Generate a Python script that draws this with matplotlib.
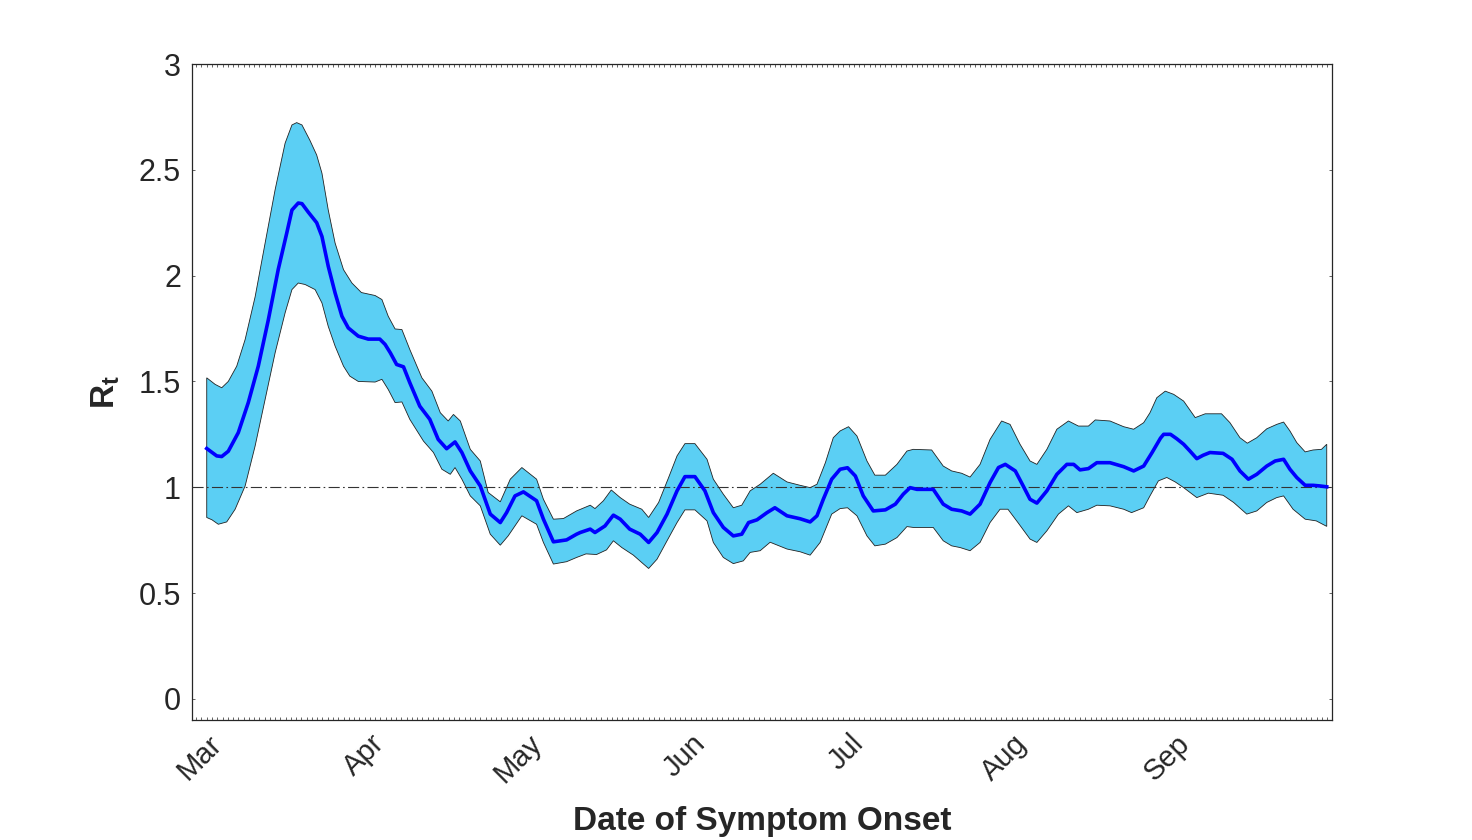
import numpy as np
import matplotlib
matplotlib.use("Agg")
import matplotlib.pyplot as plt
import matplotlib.dates as mdates
import datetime as dt

plt.rcParams['font.family'] = ['Liberation Sans', 'DejaVu Sans']
plt.rcParams['mathtext.fontset'] = 'custom'
plt.rcParams['mathtext.bf'] = 'Liberation Sans:bold'
plt.rcParams['mathtext.rm'] = 'Liberation Sans'

# ---- data (day offsets from series start, value) ----
start_date = "2020-02-28"

mean_days = [0.0, 1.9, 2.85, 4.1, 6.0, 7.9, 9.8, 11.7, 13.6, 15.2, 16.2, 17.4, 18.1, 19.3, 20.9, 21.9,
             23.1, 24.4, 25.7, 26.9, 28.8, 30.7, 32.9, 33.9, 34.9, 36.1, 37.4, 38.6, 40.5, 42.4, 44.0,
             45.6, 47.2, 48.5, 50.1, 52.0, 53.9, 55.8, 57.0, 58.6, 60.2, 62.7, 64.0, 65.9, 68.4, 70.3,
             71.0, 72.9, 73.8, 75.7, 77.3, 78.6, 80.4, 82.4, 84.0, 85.6, 87.5, 89.4, 90.9, 92.8, 94.7,
             96.3, 98.2, 100.1, 101.7, 103.0, 104.6, 106.5, 108.0, 110.3, 112.8, 114.7, 116.0, 117.2,
             118.8, 120.4, 121.8, 123.3, 124.8, 126.7, 129.0, 130.9, 132.4, 133.7, 135.0, 138.1, 140.0,
             141.6, 143.5, 145.1, 147.0, 148.9, 150.5, 151.8, 153.7, 155.2, 156.5, 157.8, 159.7, 161.6,
             163.5, 164.8, 166.0, 167.6, 169.2, 171.7, 174.3, 176.2, 178.1, 179.7, 181.3, 181.9, 183.2,
             184.4, 185.7, 186.9, 188.2, 189.4, 190.7, 193.2, 194.9, 196.4, 198.0, 199.6, 201.5, 203.1,
             204.7, 205.9, 207.2, 208.8, 210.3, 211.6, 212.9]
mean_rt = [1.183, 1.148, 1.145, 1.17, 1.258, 1.40, 1.572, 1.79, 2.03, 2.20, 2.31, 2.343, 2.34, 2.30, 2.25,
           2.185, 2.044, 1.918, 1.808, 1.753, 1.714, 1.70, 1.70, 1.675, 1.635, 1.58, 1.569, 1.494, 1.383,
           1.321, 1.226, 1.182, 1.214, 1.164, 1.077, 1.006, 0.873, 0.833, 0.88, 0.959, 0.978, 0.936,
           0.849, 0.742, 0.751, 0.778, 0.786, 0.802, 0.786, 0.817, 0.868, 0.849, 0.802, 0.778, 0.739,
           0.786, 0.873, 0.983, 1.05, 1.05, 0.983, 0.88, 0.81, 0.77, 0.778, 0.833, 0.846, 0.88, 0.903,
           0.865, 0.851, 0.836, 0.865, 0.943, 1.038, 1.085, 1.092, 1.053, 0.959, 0.888, 0.893, 0.92,
           0.967, 0.998, 0.99, 0.99, 0.92, 0.896, 0.888, 0.873, 0.92, 1.022, 1.093, 1.108, 1.077, 1.006,
           0.943, 0.925, 0.983, 1.061, 1.108, 1.108, 1.082, 1.088, 1.116, 1.116, 1.097, 1.077, 1.10,
           1.164, 1.232, 1.25, 1.25, 1.229, 1.203, 1.171, 1.135, 1.151, 1.164, 1.16, 1.132, 1.077, 1.038,
           1.061, 1.10, 1.124, 1.132, 1.085, 1.046, 1.009, 1.009, 1.006, 1.002]

upper_days = [0.0, 1.6, 2.85, 4.1, 5.7, 7.3, 9.2, 11.1, 13.0, 14.9, 16.2, 17.1, 18.1, 19.6, 20.9, 21.9,
              23.1, 24.4, 26.0, 27.6, 29.4, 32.0, 33.3, 34.5, 35.8, 37.1, 38.6, 40.9, 42.8, 44.4, 45.9,
              46.9, 48.2, 50.1, 52.0, 53.5, 55.8, 57.7, 59.9, 62.7, 64.0, 65.9, 67.8, 70.3, 72.9, 73.8,
              75.4, 76.9, 78.6, 80.4, 82.7, 84.0, 85.9, 87.8, 89.4, 90.9, 92.8, 95.1, 96.3, 98.2, 100.1,
              101.7, 103.3, 105.2, 107.7, 110.3, 112.8, 114.7, 116.0, 117.6, 119.1, 120.4, 122.0, 123.6,
              125.5, 127.0, 129.0, 131.2, 133.1, 134.3, 137.8, 140.0, 141.6, 143.5, 145.1, 147.0, 148.9,
              151.1, 152.7, 154.6, 156.5, 157.8, 159.7, 161.6, 163.8, 165.7, 167.6, 168.9, 171.7, 174.3,
              176.2, 178.1, 179.3, 180.6, 182.2, 183.8, 185.7, 187.9, 189.8, 192.9, 194.5, 196.4, 197.8,
              199.6, 201.5, 203.4, 204.7, 205.9, 207.2, 208.8, 210.3, 211.9, 212.9]
upper_rt = [1.517, 1.486, 1.47, 1.50, 1.572, 1.698, 1.90, 2.154, 2.406, 2.626, 2.712, 2.723, 2.712, 2.64,
            2.57, 2.484, 2.31, 2.154, 2.028, 1.965, 1.92, 1.906, 1.887, 1.808, 1.748, 1.745, 1.651, 1.517,
            1.454, 1.352, 1.313, 1.344, 1.313, 1.179, 1.124, 0.975, 0.931, 1.038, 1.093, 1.038, 0.943,
            0.849, 0.852, 0.888, 0.915, 0.899, 0.936, 0.987, 0.951, 0.92, 0.896, 0.857, 0.928, 1.046,
            1.148, 1.206, 1.206, 1.132, 1.038, 0.967, 0.903, 0.915, 0.983, 1.014, 1.066, 1.025, 1.009,
            0.998, 1.014, 1.116, 1.234, 1.266, 1.286, 1.242, 1.124, 1.057, 1.057, 1.108, 1.171, 1.179,
            1.176, 1.10, 1.077, 1.066, 1.048, 1.108, 1.226, 1.313, 1.297, 1.203, 1.124, 1.108, 1.179,
            1.274, 1.313, 1.289, 1.289, 1.318, 1.313, 1.286, 1.274, 1.305, 1.352, 1.423, 1.454, 1.439,
            1.407, 1.329, 1.347, 1.347, 1.305, 1.234, 1.208, 1.234, 1.276, 1.297, 1.308, 1.266, 1.211,
            1.167, 1.176, 1.179, 1.203]

lower_days = [0.0, 1.0, 2.2, 3.8, 5.4, 7.3, 9.2, 11.1, 13.0, 14.9, 16.2, 17.4, 18.7, 20.6, 21.9, 23.1,
              24.4, 26.0, 27.2, 28.8, 32.0, 33.3, 34.5, 35.8, 37.1, 38.6, 41.2, 43.1, 44.7, 46.3, 47.2,
              48.5, 50.1, 52.0, 53.9, 55.8, 57.3, 59.9, 62.7, 64.0, 65.9, 68.4, 70.3, 72.1, 74.1, 76.0,
              77.3, 78.9, 81.1, 82.7, 84.0, 85.6, 87.5, 89.4, 90.9, 92.8, 95.1, 96.3, 98.2, 100.1, 102.0,
              103.3, 105.2, 107.1, 110.3, 112.8, 114.7, 116.6, 118.8, 120.4, 121.8, 123.6, 125.5, 127.0,
              129.0, 131.2, 133.1, 134.3, 138.1, 140.0, 141.6, 143.2, 145.1, 147.0, 148.9, 150.8, 152.3,
              154.2, 156.5, 157.8, 159.7, 161.9, 163.8, 165.4, 167.6, 169.2, 171.7, 174.3, 175.8, 178.1,
              179.3, 180.9, 182.5, 184.1, 185.7, 188.2, 190.4, 193.2, 195.2, 197.7, 199.6, 201.5, 203.4,
              204.7, 206.5, 208.8, 210.9, 212.9]
lower_rt = [0.857, 0.846, 0.825, 0.836, 0.896, 1.006, 1.195, 1.415, 1.635, 1.824, 1.934, 1.965, 1.958,
            1.934, 1.871, 1.76, 1.667, 1.572, 1.525, 1.50, 1.497, 1.51, 1.462, 1.40, 1.403, 1.321, 1.218,
            1.164, 1.085, 1.061, 1.093, 1.038, 0.959, 0.912, 0.778, 0.726, 0.77, 0.865, 0.825, 0.739,
            0.637, 0.648, 0.668, 0.685, 0.682, 0.704, 0.747, 0.715, 0.679, 0.644, 0.616, 0.66, 0.747,
            0.833, 0.893, 0.893, 0.841, 0.739, 0.668, 0.639, 0.652, 0.692, 0.70, 0.74, 0.708, 0.695,
            0.679, 0.739, 0.873, 0.899, 0.903, 0.865, 0.77, 0.723, 0.731, 0.762, 0.814, 0.81, 0.81,
            0.747, 0.723, 0.715, 0.70, 0.739, 0.833, 0.896, 0.896, 0.833, 0.755, 0.739, 0.794, 0.873,
            0.912, 0.88, 0.896, 0.915, 0.912, 0.896, 0.88, 0.903, 0.959, 1.03, 1.046, 1.025, 0.998,
            0.951, 0.972, 0.962, 0.928, 0.873, 0.888, 0.928, 0.951, 0.959, 0.896, 0.849, 0.841, 0.815]

threshold = 1.0
ytick_vals = [0, 0.5, 1, 1.5, 2, 2.5, 3]
ytick_labels = ["0", "0.5", "1", "1.5", "2", "2.5", "3"]
month_labels = ["Mar", "Apr", "May", "Jun", "Jul", "Aug", "Sep"]
xlabel_text = "Date of Symptom Onset"
ylabel_text = r"$\mathbf{R_t}$"

# ---- plotting ----
base = mdates.date2num(dt.datetime.fromisoformat(start_date))
xm = base + np.array(mean_days)
xu = base + np.array(upper_days)
xl = base + np.array(lower_days)

fig = plt.figure(figsize=(14.72, 8.4), dpi=100)
ax = fig.add_axes([192/1472, 120/840, 1140/1472, 656/840])

poly_x = np.concatenate([xu, xl[::-1]])
poly_y = np.concatenate([np.array(upper_rt), np.array(lower_rt)[::-1]])
ax.fill(poly_x, poly_y, facecolor='#5BCFF4', edgecolor='#222222', linewidth=0.6, zorder=2)

ax.axhline(threshold, color='#333333', linestyle=(0, (10, 3, 1.5, 3)), linewidth=0.8, zorder=3)
ax.plot(xm, mean_rt, color='#0000FF', linewidth=2.6, zorder=4, solid_joinstyle='round')

ax.set_ylim(-0.1, 3)
ax.set_xlim(base - 2.8, base + 213.9)
ax.set_yticks(ytick_vals)
ax.set_yticklabels(ytick_labels)

month_ticks = [mdates.date2num(dt.datetime(2020, m, 1)) for m in range(3, 10)]
ax.set_xticks(month_ticks)
ax.set_xticklabels(month_labels, rotation=45, ha='right', va='center', rotation_mode='anchor')
ax.xaxis.set_minor_locator(mdates.DayLocator())

ax.tick_params(axis='both', which='both', direction='in', top=True, right=True,
               labelsize=22, colors='#262626', length=2.5, width=0.5)
ax.tick_params(axis='x', which='major', pad=14, labelsize=21)
ax.tick_params(axis='y', which='major', pad=8)
for sp in ax.spines.values():
    sp.set_color('#262626')
    sp.set_linewidth(0.9)

ax.set_xlabel(xlabel_text, fontsize=24, fontweight='bold', color='#262626', labelpad=13)
ax.set_ylabel(ylabel_text, fontsize=24, color='#262626', labelpad=12)

fig.savefig("out.png", dpi=100, facecolor='white')
